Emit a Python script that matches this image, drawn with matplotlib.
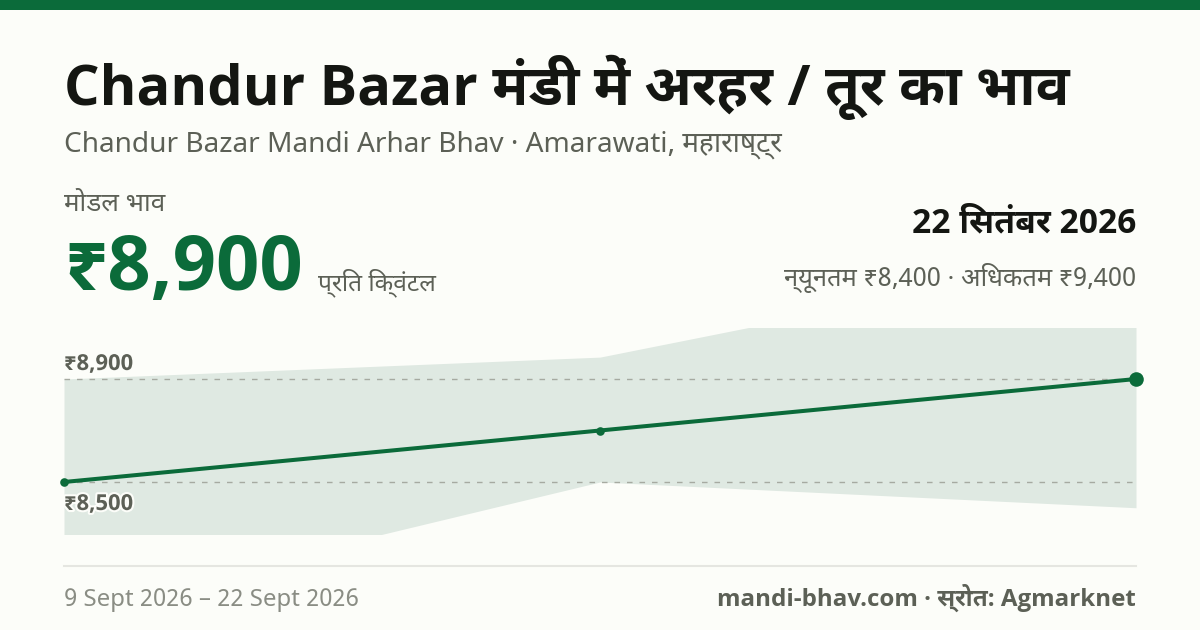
import re
import matplotlib
matplotlib.use('Agg')
import matplotlib.pyplot as plt
import matplotlib.patheffects as pe
from matplotlib.patches import Rectangle
from matplotlib.lines import Line2D

W, H = 1200, 630
BG = '#FCFDF9'
GREEN = '#0B6B3A'
INK = '#141612'
GREY = '#5C6056'
LIGHT = '#8A8D84'
FONT = ['Noto Sans Devanagari UI', 'Noto Sans', 'DejaVu Sans']
FONT_BOLD = ['Open Sans', 'Noto Sans Devanagari UI', 'DejaVu Sans']

# values
modal = [8500, 8700, 8900]
low = [8000, 8500, 8400]
high = [8900, 8985, 9400]
guides = [8900, 8500]
guide_labels = ['₹8,900', '₹8,500']
title = 'Chandur Bazar मंडी में अरहर / तूर का भाव'
subtitle = 'Chandur Bazar Mandi Arhar Bhav · Amarawati, महाराष्ट्र'
date_range = '9 Sept 2026 – 22 Sept 2026'
source = 'mandi-bhav.com · स्रोत: Agmarknet'


def draw_order(s):
    # the text renderer leaves the i-matra after its consonant, so move it in front of the cluster
    return re.sub('((?:[क-ह]़?्)*[क-ह]़?)ि', 'ि\\1', s)


def put(fig, x, y, s, px, color=INK, weight=400, ha='left', **kw):
    # x, y are picture pixels from top-left, px is font size in pixels
    return fig.text(x / W, 1 - y / H, draw_order(s), fontsize=px * 0.72, color=color, weight=weight,
                    ha=ha, va='baseline', family=FONT_BOLD if weight >= 600 else FONT, **kw)


fig = plt.figure(figsize=(W / 100, H / 100), dpi=100, facecolor=BG)

fig.add_artist(Rectangle((0, 1 - 10 / H), 1, 10 / H, transform=fig.transFigure, color=GREEN, lw=0))
fig.add_artist(Line2D([64 / W, 1136 / W], [1 - 566 / H] * 2, transform=fig.transFigure, color='#E5E6E1', lw=1.5))

ax = fig.add_axes([64 / W, 1 - 533.5 / H, 1072 / W, 206 / H])
ax.set_facecolor('none')
x = list(range(len(modal)))
ax.fill_between(x, low, high, color='#DFE9E2', lw=0)
for g in guides:
    ax.axhline(g, color='#A6AAA1', lw=1, dashes=(4, 5))
ax.plot(x, modal, color=GREEN, lw=2.9, solid_capstyle='round')
ax.plot(x[:2], modal[:2], 'o', color=GREEN, ms=6.2, mew=0, clip_on=False)
ax.plot(x[-1], modal[-1], 'o', color=GREEN, ms=10.5, mew=0, clip_on=False, zorder=5)
ax.set_xlim(0, len(modal) - 1)
ax.set_ylim(8300, 9100)
ax.axis('off')

put(fig, 64, 105, title, 56, weight=700)
put(fig, 64, 152, subtitle, 28, color=GREY)
put(fig, 64, 211, 'मोडल भाव', 26, color=GREY)
put(fig, 64, 290, '₹8,900', 76, color=GREEN, weight=700)
put(fig, 318, 290, 'प्रति क्विंटल', 24.5, color=GREY)
put(fig, 1136, 232, '22 सितंबर 2026', 33.7, weight=700, ha='right')
put(fig, 1136, 286, 'न्यूनतम ₹8,400 · अधिकतम ₹9,400', 25.5, color=GREY, ha='right')

halo = [pe.withStroke(linewidth=3, foreground=BG)]
for lab, yy in zip(guide_labels, [370, 510]):
    put(fig, 64, yy, lab, 22, color=GREY, weight=700, path_effects=halo)

put(fig, 64, 606, date_range, 24, color=LIGHT)
put(fig, 1136, 606, source, 24.1, color=GREY, weight=700, ha='right')

fig.savefig('out.png', dpi=100, facecolor=BG)
